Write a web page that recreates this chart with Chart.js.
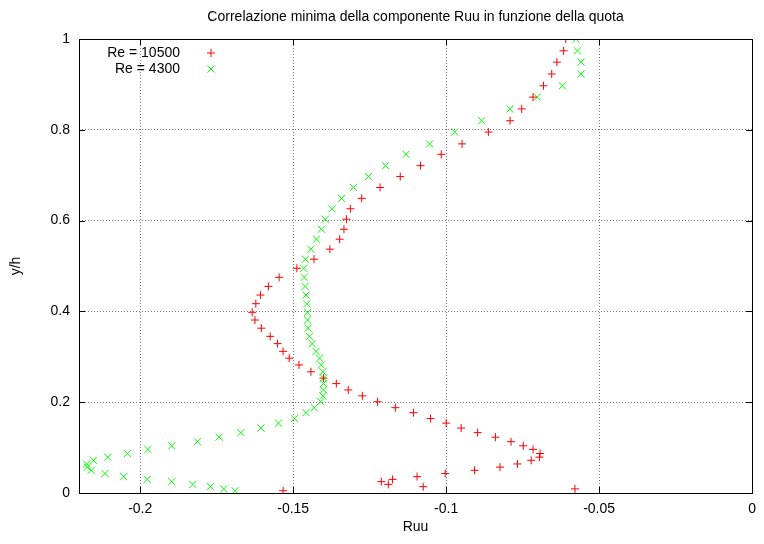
<!DOCTYPE html>
<html>
<head>
<meta charset="utf-8">
<title>Correlazione minima Ruu</title>
<script src="https://cdn.jsdelivr.net/npm/chart.js@4/dist/chart.umd.min.js"></script>
<style>
  html, body { margin: 0; padding: 0; background: #fff; }
  #wrap { width: 764px; height: 544px; }
</style>
</head>
<body>
<div id="wrap"><canvas id="ruuChart" width="764" height="544"></canvas></div>
<script>
// quota adimensionale y/h (uguale per le due prove)
const quota = [
  1.000, 0.974, 0.949, 0.923, 0.897, 0.872, 0.846, 0.820, 0.795, 0.769,
  0.746, 0.721, 0.697, 0.673, 0.649, 0.626, 0.603, 0.581, 0.559, 0.537,
  0.515, 0.495, 0.475, 0.455, 0.436, 0.417, 0.398, 0.381, 0.363, 0.345,
  0.329, 0.312, 0.297, 0.282, 0.267, 0.253, 0.241, 0.227, 0.214, 0.201,
  0.188, 0.177, 0.164, 0.154, 0.143, 0.133, 0.123, 0.113, 0.104, 0.096,
  0.087, 0.079, 0.072, 0.064, 0.057, 0.050, 0.043, 0.036, 0.030, 0.025,
  0.019, 0.014, 0.009, 0.005
];

// minimo di Ruu, Re = 10500
const ruuRe10500 = [
  -0.0609, -0.0616, -0.0638, -0.0655, -0.0682, -0.0716, -0.0753, -0.0791, -0.0862, -0.0948,
  -0.1016, -0.1084, -0.1150, -0.1216, -0.1276, -0.1313, -0.1326, -0.1334, -0.1348, -0.1380,
  -0.1432, -0.1488, -0.1546, -0.1581, -0.1607, -0.1622, -0.1634, -0.1625, -0.1604, -0.1575,
  -0.1551, -0.1533, -0.1513, -0.1481, -0.1442, -0.1401, -0.1359, -0.1320, -0.1274, -0.1224,
  -0.1166, -0.1107, -0.1051, -0.1000, -0.0951, -0.0897, -0.0839, -0.0788, -0.0748, -0.0716,
  -0.0693, -0.0695, -0.0722, -0.0767, -0.0824, -0.0907, -0.1003, -0.1095, -0.1175, -0.1212,
  -0.1189, -0.1075, -0.0579, -0.1533
];

// minimo di Ruu, Re = 4300
const ruuRe4300 = [
  -0.0576, -0.0571, -0.0559, -0.0559, -0.0620, -0.0702, -0.0791, -0.0884, -0.0972, -0.1054,
  -0.1131, -0.1198, -0.1254, -0.1303, -0.1342, -0.1373, -0.1395, -0.1408, -0.1424, -0.1442,
  -0.1460, -0.1466, -0.1464, -0.1461, -0.1458, -0.1455, -0.1453, -0.1453, -0.1451, -0.1447,
  -0.1438, -0.1425, -0.1414, -0.1408, -0.1403, -0.1401, -0.1401, -0.1401, -0.1403, -0.1410,
  -0.1431, -0.1458, -0.1496, -0.1548, -0.1605, -0.1671, -0.1742, -0.1813, -0.1897, -0.1975,
  -0.2042, -0.2106, -0.2153, -0.2175, -0.2173, -0.2160, -0.2115, -0.2054, -0.1977, -0.1897,
  -0.1828, -0.1770, -0.1727, -0.1690
];

const seriesLabels = ['Re = 10500', 'Re = 4300'];
const xTicks = [-0.2, -0.15, -0.1, -0.05, 0];
const yTicks = [0, 0.2, 0.4, 0.6, 0.8, 1];

const FONT = 'Liberation Sans, Arial, Helvetica, sans-serif';

function toPoints(xs) {
  return xs.map((x, i) => ({ x: x, y: quota[i] }));
}

function fmt(v) {
  return String(Math.round(v * 100) / 100);
}

// bordo, tacche interne, titolo e legenda come in gnuplot
const gnuplotFrame = {
  id: 'gnuplotFrame',
  afterDatasetsDraw(chart) {
    const ctx = chart.ctx;
    const a = chart.chartArea;
    const xs = chart.scales.x, ys = chart.scales.y;
    ctx.save();
    ctx.strokeStyle = '#000';
    ctx.lineWidth = 1;
    ctx.setLineDash([]);
    ctx.beginPath();
    xTicks.forEach(v => {
      const px = Math.round(xs.getPixelForValue(v)) + 0.5;
      ctx.moveTo(px, a.bottom); ctx.lineTo(px, a.bottom - 6);
      ctx.moveTo(px, a.top); ctx.lineTo(px, a.top + 6);
    });
    yTicks.forEach(v => {
      const py = Math.round(ys.getPixelForValue(v)) + 0.5;
      ctx.moveTo(a.left, py); ctx.lineTo(a.left + 6, py);
      ctx.moveTo(a.right, py); ctx.lineTo(a.right - 6, py);
    });
    ctx.stroke();
    ctx.strokeRect(Math.round(a.left) + 0.5, Math.round(a.top) + 0.5,
      Math.round(a.right - a.left), Math.round(a.bottom - a.top));

    // titolo
    ctx.fillStyle = '#000';
    ctx.font = '14px ' + FONT;
    ctx.textAlign = 'center';
    ctx.textBaseline = 'middle';
    ctx.fillText('Correlazione minima della componente Ruu in funzione della quota',
      (a.left + a.right) / 2, 17);

    // legenda
    ctx.font = '14px ' + FONT;
    ctx.textAlign = 'right';
    chart.data.datasets.forEach((ds, i) => {
      const y = 53 + i * 16;
      ctx.fillStyle = '#000';
      ctx.fillText(ds.label, 180, y);
      ctx.strokeStyle = ds.borderColor;
      ctx.fillStyle = ds.borderColor;
      ctx.lineWidth = 1;
      Chart.helpers.drawPoint(ctx, {
        pointStyle: ds.pointStyle,
        radius: ds.pointRadius,
        borderWidth: 1
      }, 211, y);
    });
    ctx.restore();
  }
};

const ctx = document.getElementById('ruuChart').getContext('2d');
new Chart(ctx, {
  type: 'scatter',
  data: {
    datasets: [
      {
        label: seriesLabels[0],
        data: toPoints(ruuRe10500),
        pointStyle: 'cross',
        pointRadius: 4,
        pointHoverRadius: 4,
        borderColor: '#ff0000',
        backgroundColor: '#ff0000',
        borderWidth: 1
      },
      {
        label: seriesLabels[1],
        data: toPoints(ruuRe4300),
        pointStyle: 'crossRot',
        pointRadius: 5,
        pointHoverRadius: 5,
        borderColor: '#00ff00',
        backgroundColor: '#00ff00',
        borderWidth: 1
      }
    ]
  },
  options: {
    responsive: false,
    animation: false,
    events: [],
    layout: { padding: { top: 39, right: 9, left: 0, bottom: 0 } },
    plugins: {
      legend: { display: false },
      title: { display: false },
      tooltip: { enabled: false }
    },
    scales: {
      x: {
        type: 'linear',
        min: -0.22,
        max: 0,
        afterBuildTicks: s => { s.ticks = xTicks.map(v => ({ value: v })); },
        afterFit: s => { s.height = 51; },
        grid: { color: '#7a7a7a', drawTicks: false },
        border: { display: false, dash: [1, 2] },
        ticks: {
          color: '#000',
          padding: 8,
          maxRotation: 0,
          font: { family: FONT, size: 14 },
          callback: v => fmt(v)
        },
        title: {
          display: true,
          text: 'Ruu',
          color: '#000',
          font: { family: FONT, size: 14 },
          padding: { top: 0, bottom: 8 }
        }
      },
      y: {
        type: 'linear',
        min: 0,
        max: 1,
        afterBuildTicks: s => { s.ticks = yTicks.map(v => ({ value: v })); },
        afterFit: s => { s.width = 79; },
        grid: { color: '#7a7a7a', drawTicks: false },
        border: { display: false, dash: [1, 2] },
        ticks: {
          color: '#000',
          padding: 9,
          font: { family: FONT, size: 14 },
          callback: v => fmt(v)
        },
        title: {
          display: true,
          text: 'y/h',
          color: '#000',
          font: { family: FONT, size: 14 },
          padding: { top: 8, bottom: 0 }
        }
      }
    }
  },
  plugins: [gnuplotFrame]
});
</script>
</body>
</html>
